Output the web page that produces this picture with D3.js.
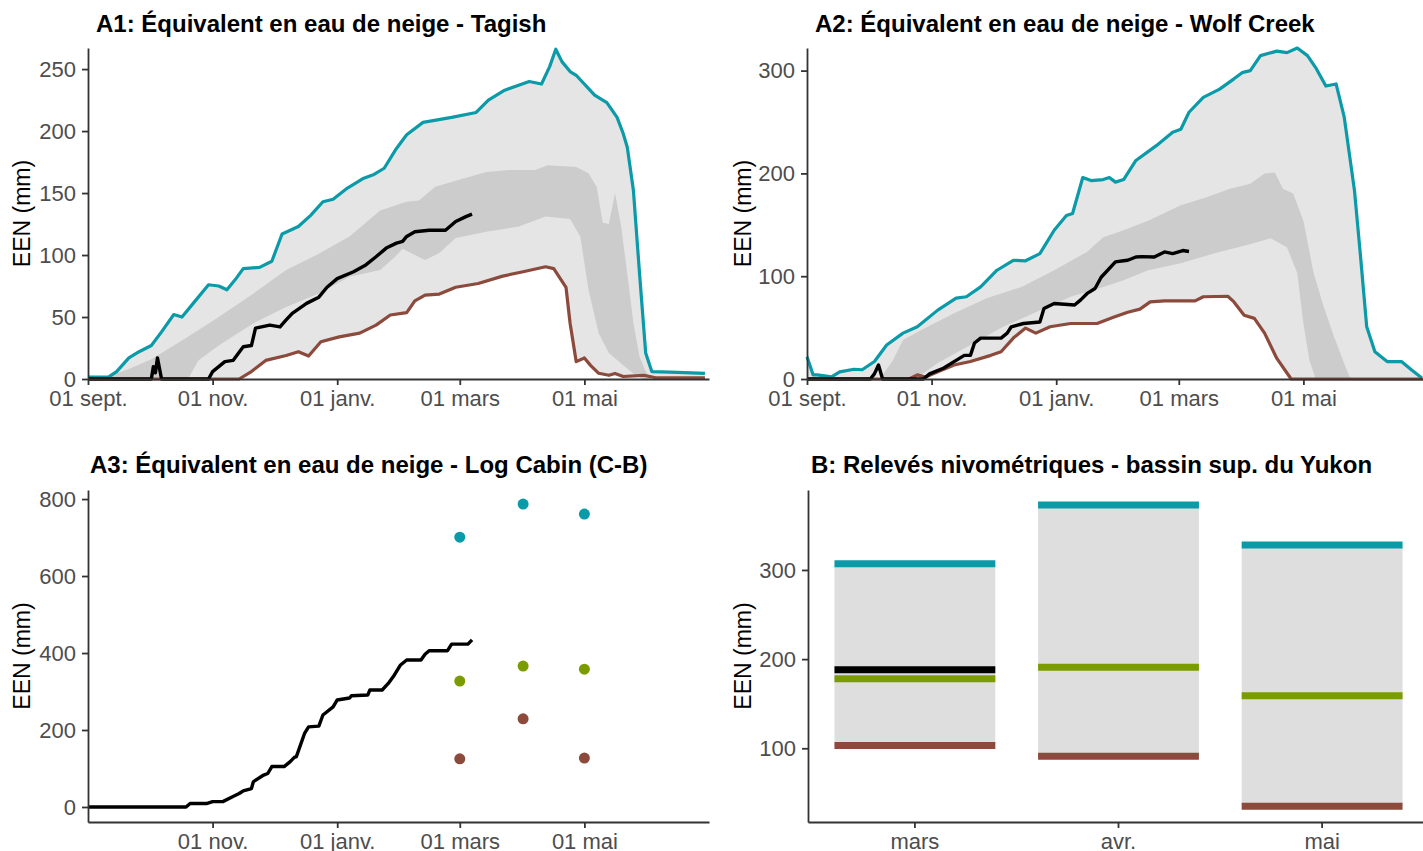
<!DOCTYPE html>
<html>
<head>
<meta charset="utf-8">
<script src="https://cdn.jsdelivr.net/npm/d3@7"></script>
<style>
  body { margin: 0; background: #fff; }
  svg { display: block; font-family: "Liberation Sans", Arial, sans-serif; }
</style>
</head>
<body>
<svg id="chart" width="1423" height="851"></svg>
<script>
// season runs from 1 Sept; series are [day since 1 Sept, SWE mm]
var seasonStartStr = "2023-09-01";
var seasonLength = 304;
var xTickDates = ["2023-09-01", "2023-11-01", "2024-01-01", "2024-03-01", "2024-05-01"];

// A1 - Tagish
var tagishMax = [[0,1.5],[10,1.5],[14,6],[20,17],[25,22],[31,27],[36,38],[42,52],[46,50],[52,62],[59,76],[64,75],[68,72],[72,80],[76,89],[84,90],[90,95],[95,117],[103,123],[109,132],[115,143],[120,145],[127,154],[135,162],[140,165],[145,170],[151,186],[156,197],[164,207],[178,211],[190,215],[196,225],[204,233],[216,240],[222,238],[226,252],[229,266],[232,256],[236,248],[239,245],[248,229],[254,223],[259,211],[262,198],[264,187],[267,152],[270,85],[273,21],[276,6],[285,5.5],[302,4.5]];
var tagishMin = [[0,0],[74,0],[80,6],[87,15],[97,19],[103,22],[108,18.5],[114,30],[123,34],[133,37],[141,43.5],[148,51.6],[156,53.5],[160,63],[165,67.7],[172,68.5],[180,74],[191,77],[203,83],[213,86.5],[224,90.5],[228,89],[234,74],[236,45],[239,14],[243,17],[246,11],[250,4.6],[255,3],[258,4.5],[262,2],[272,3],[278,1],[302,1]];
var tagishQ75 = [[6,0],[20,8],[31,16],[48,33],[64,50],[81,69],[97,88],[113,101],[128,115],[143,136],[156,143],[162,144],[170,155],[180,160],[195,167],[206,168.5],[219,168.5],[225,172.5],[239,171],[245,166],[249,155],[252,126],[255,125],[258,150],[261,123],[264,85],[267,45],[270,18],[273,6],[276,0],[302,0]];
var tagishQ25 = [[6,0],[49,0],[54,15],[64,27],[81,45],[97,58],[113,69],[128,82.5],[143,88],[150,98],[154,105],[160,100],[165,96],[172,101.6],[180,113.7],[195,118.8],[211,123],[224,131],[236,129],[241,115],[245,72],[250,37],[255,21],[262,11],[268,3],[272,0],[302,0]];
var tagishNow = [[0,0],[31,0],[32,10],[33,5],[34,17],[36,0],[59,0],[61,6],[67,14],[71,15],[76,26],[80,27],[82,41],[89,43.5],[94,42],[97,47.6],[100,53],[107,61],[113,66],[117,74],[122,81],[130,86.5],[136,92],[141,98.6],[146,105.6],[151,109.6],[154,111],[156,115],[160,118.8],[167,120],[175,120],[180,127],[185,131],[188,133]];

// A2 - Wolf Creek
var wolfMax = [[0,21.6],[3,4],[5,4],[12,2],[16,7],[23,9.5],[27,9],[33,17],[39,33],[47,44.6],[54,50.8],[64,67],[73,78.6],[78,80],[85,89.6],[93,105.8],[101,115.5],[107,115],[114,122],[121,144.7],[127,159],[130,161],[135,196],[139,193],[145,194],[148,196],[151,191.5],[155,194],[161,212.6],[171,227],[179,240],[183,243],[187,259.5],[194,274],[202,282],[209,292],[213,298],[217,300],[222,314.6],[230,319],[235,317.5],[240,322],[245,314.6],[249,303],[254,285],[259,287],[263,254.7],[268,183.5],[271,118.7],[274,50.8],[278,26.5],[284,17],[291,17],[296,8.7],[301,1]];
var wolfMin = [[0,0],[50,0],[54,4],[58,2],[64,7],[72,13.6],[80,17],[90,23],[95,26.5],[101,39.8],[107,49.5],[112,44.6],[119,50.8],[129,54],[142,54],[150,60],[157,65],[163,68],[168,75],[175,76],[190,76],[194,80],[206,80.5],[209,75],[214,62],[219,59],[224,44.6],[230,20],[237,0],[302,0]];
var wolfQ75 = [[34,0],[36,1],[42,18],[47,38],[56,47.6],[72,64],[88,78.6],[105,89.6],[121,105.8],[137,123.6],[145,138],[155,144.7],[167,154],[183,169],[196,177],[207,185],[217,190],[224,200],[229,201],[233,185],[238,180.5],[243,154],[248,103],[253,70],[258,41],[263,15],[266,0],[302,0]];
var wolfQ25 = [[34,0],[53,0],[64,15.5],[80,33],[96,50.8],[112,65],[129,80],[145,89.6],[155,96],[167,105.8],[183,112.6],[199,122],[215,130],[227,137],[235,128],[240,103],[243,54],[246,18],[249,0],[302,0]];
var wolfNow = [[0,0],[31,0],[33,5],[35,13.6],[37,0],[57,0],[60,5],[67,10.7],[70,14.5],[77,23],[80,23],[82,35],[85,39.8],[95,39.8],[98,44.6],[100,50.8],[106,54],[114,55.4],[116,68.6],[121,73.5],[131,72],[134,77],[137,83],[141,88],[144,99],[151,114],[155,115],[157,115.5],[161,118.7],[164,119],[170,118.7],[175,123.6],[179,122],[184,125],[187,124]];

// A3 - Log Cabin (C-B)
var logCabinNow = [[0,0],[48,0],[50,9],[58,9],[61,14],[66,14],[71,27],[74,35],[76,42],[80,48],[81,66],[86,83],[88,87],[90,105],[96,105],[99,118],[101,129],[102,131],[106,191],[108,208],[113,210],[115,239],[120,260],[122,278],[128,283],[129,289],[137,291],[138,304],[144,304],[147,321],[150,343],[153,369],[156,382],[163,382],[165,397],[167,406],[176,406],[178,423],[186,423],[188,434]];
var surveyDates = ["2024-03-01", "2024-04-01", "2024-05-01"];
var logCabinSurveyMax = [701, 787, 761];
var logCabinSurveyMed = [327, 366, 358];
var logCabinSurveyMin = [125, 229, 127];

// B - upper Yukon basin snow surveys
var surveyMonths = ["mars", "avr.", "mai"];
var basinMax = [307, 373, 328];
var basinMed = [178, 191, 159];
var basinMin = [103, 91, 35];
var basinNow = [188, null, null];

var TEAL = "#0b9aa8", BROWN = "#8b4a3b", GREEN = "#7a9c00", BLACK = "#000";

var parse = d3.timeParse("%Y-%m-%d");
var seasonStart = parse(seasonStartStr);
function toDate(day) { return new Date(seasonStart.getTime() + day * 864e5); }

var fr = d3.timeFormatLocale({
    dateTime: "%A %e %B %Y à %X", date: "%d/%m/%Y", time: "%H:%M:%S",
    periods: ["AM", "PM"],
    days: ["dimanche", "lundi", "mardi", "mercredi", "jeudi", "vendredi", "samedi"],
    shortDays: ["dim.", "lun.", "mar.", "mer.", "jeu.", "ven.", "sam."],
    months: ["janvier", "février", "mars", "avril", "mai", "juin", "juillet", "août", "septembre", "octobre", "novembre", "décembre"],
    shortMonths: ["janv.", "févr.", "mars", "avr.", "mai", "juin", "juil.", "août", "sept.", "oct.", "nov.", "déc."]
});
var fmtDay = fr.format("%d %b");

var svg = d3.select("#chart");

function styleAxis(sel) {
    sel.attr("font-size", 22).attr("font-family", null);
    sel.select(".domain").attr("stroke", "#333").attr("stroke-width", 1.8);
    sel.selectAll(".tick line").attr("stroke", "#333").attr("stroke-width", 1.8);
    sel.selectAll(".tick text").attr("fill", "#4d4d4d");
}

function titles(p) {
    svg.append("text")
        .attr("x", p.titleX).attr("y", p.titleY)
        .attr("font-size", 24).attr("font-weight", "bold").attr("fill", "#000")
        .text(p.title);
    svg.append("text")
        .attr("transform", "translate(" + p.yTitleX + "," + ((p.top + p.bottom) / 2) + ") rotate(-90)")
        .attr("text-anchor", "middle")
        .attr("font-size", 23).attr("fill", "#000")
        .text("EEN (mm)");
}

function seasonPanel(p) {
    var x = d3.scaleTime().domain([seasonStart, toDate(seasonLength)]).range([p.left, p.left + 621]);
    var y = d3.scaleLinear().domain(p.yDomain).range([p.bottom, p.top]);
    var g = svg.append("g");
    var line = d3.line()
        .x(function (d) { return x(toDate(d[0])); })
        .y(function (d) { return y(d[1]); });

    if (p.max) {
        g.append("path")
            .attr("d", line(p.max.concat(p.min.slice().reverse())) + "Z")
            .attr("fill", "#e5e5e5");
        g.append("path")
            .attr("d", line(p.q75.concat(p.q25.slice().reverse())) + "Z")
            .attr("fill", "#cccccc");
        g.append("path").attr("d", line(p.max)).attr("fill", "none")
            .attr("stroke", TEAL).attr("stroke-width", 3.2).attr("stroke-linejoin", "round");
        g.append("path").attr("d", line(p.min)).attr("fill", "none")
            .attr("stroke", BROWN).attr("stroke-width", 3.2).attr("stroke-linejoin", "round");
    }
    g.append("path").attr("d", line(p.now)).attr("fill", "none")
        .attr("stroke", BLACK).attr("stroke-width", 3.4).attr("stroke-linejoin", "round");

    if (p.dots) {
        p.dots.forEach(function (s) {
            g.selectAll(null)
                .data(surveyDates.map(function (d, i) { return { date: parse(d), v: s.values[i] }; }))
                .enter().append("circle")
                .attr("cx", function (d) { return x(d.date); })
                .attr("cy", function (d) { return y(d.v); })
                .attr("r", 5.5)
                .attr("fill", s.color);
        });
    }

    g.append("g")
        .attr("transform", "translate(0," + p.bottom + ")")
        .call(d3.axisBottom(x).tickValues(p.xTicks.map(parse)).tickFormat(fmtDay)
            .tickSize(6).tickSizeOuter(0).tickPadding(5))
        .call(styleAxis);
    g.append("g")
        .attr("transform", "translate(" + p.left + ",0)")
        .call(d3.axisLeft(y).tickValues(p.yTicks).tickSize(6).tickSizeOuter(0).tickPadding(6))
        .call(styleAxis);

    titles(p);
}

seasonPanel({
    left: 88, top: 48, bottom: 379, yDomain: [0, 267], yTicks: [0, 50, 100, 150, 200, 250],
    xTicks: xTickDates,
    max: tagishMax, min: tagishMin, q75: tagishQ75, q25: tagishQ25, now: tagishNow,
    title: "A1: Équivalent en eau de neige - Tagish", titleX: 96, titleY: 32, yTitleX: 30
});

seasonPanel({
    left: 807, top: 48, bottom: 379, yDomain: [0, 322], yTicks: [0, 100, 200, 300],
    xTicks: xTickDates,
    max: wolfMax, min: wolfMin, q75: wolfQ75, q25: wolfQ25, now: wolfNow,
    title: "A2: Équivalent en eau de neige - Wolf Creek", titleX: 815, titleY: 32, yTitleX: 751
});

seasonPanel({
    left: 88, top: 490, bottom: 822, yDomain: [-39, 823.5], yTicks: [0, 200, 400, 600, 800],
    xTicks: xTickDates.slice(1),
    now: logCabinNow,
    dots: [
        { values: logCabinSurveyMax, color: TEAL },
        { values: logCabinSurveyMed, color: GREEN },
        { values: logCabinSurveyMin, color: BROWN }
    ],
    title: "A3: Équivalent en eau de neige - Log Cabin (C-B)", titleX: 90, titleY: 473, yTitleX: 30
});

// panel B
(function () {
    var p = { left: 808, top: 490, bottom: 822,
        title: "B: Relevés nivométriques - bassin sup. du Yukon", titleX: 811, titleY: 473, yTitleX: 751 };
    var x = d3.scaleBand().domain(surveyMonths).range([808, 1429]).paddingInner(0.21).paddingOuter(0.13);
    var y = d3.scaleLinear().domain([17.3, 389.7]).range([p.bottom, p.top]);
    var g = svg.append("g");

    g.selectAll("rect.range")
        .data(surveyMonths)
        .enter().append("rect")
        .attr("x", function (d) { return x(d); })
        .attr("width", x.bandwidth())
        .attr("y", function (d, i) { return y(basinMax[i]); })
        .attr("height", function (d, i) { return y(basinMin[i]) - y(basinMax[i]); })
        .attr("fill", "#dedede");

    [{ v: basinMax, c: TEAL }, { v: basinMin, c: BROWN }, { v: basinMed, c: GREEN }, { v: basinNow, c: BLACK }]
        .forEach(function (s) {
            g.selectAll(null)
                .data(surveyMonths.filter(function (d, i) { return s.v[i] != null; }))
                .enter().append("line")
                .attr("x1", function (d) { return x(d); })
                .attr("x2", function (d) { return x(d) + x.bandwidth(); })
                .attr("y1", function (d) { return y(s.v[surveyMonths.indexOf(d)]); })
                .attr("y2", function (d) { return y(s.v[surveyMonths.indexOf(d)]); })
                .attr("stroke", s.c)
                .attr("stroke-width", 7);
        });

    g.append("g")
        .attr("transform", "translate(0," + p.bottom + ")")
        .call(d3.axisBottom(x).tickSize(6).tickSizeOuter(0).tickPadding(5))
        .call(styleAxis);
    g.append("g")
        .attr("transform", "translate(" + p.left + ",0)")
        .call(d3.axisLeft(y).tickValues([100, 200, 300]).tickSize(6).tickSizeOuter(0).tickPadding(6))
        .call(styleAxis);

    titles(p);
})();
</script>
</body>
</html>
